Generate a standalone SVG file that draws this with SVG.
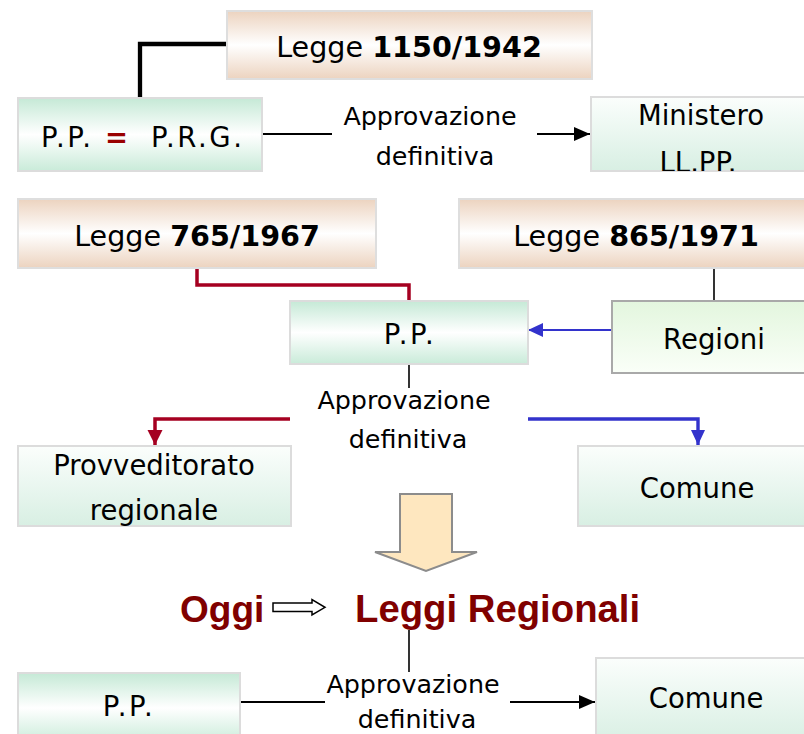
<svg xmlns="http://www.w3.org/2000/svg" width="804" height="734" viewBox="0 0 804 734">
  <style>
    .lbl { font-family: "DejaVu Sans", Verdana, sans-serif; font-size: 27.5px; fill: #000; }
    .pp { letter-spacing: 2.6px; }
    .law { font-family: "DejaVu Sans", Verdana, sans-serif; font-size: 28.6px; fill: #000; }
    .b { font-weight: bold; }
    .appr { font-family: "DejaVu Sans", Verdana, sans-serif; font-size: 25.4px; fill: #000; text-anchor: middle; }
    .mid { text-anchor: middle; }
    .head { font-family: "Liberation Sans", Arial, sans-serif; font-size: 37px; font-weight: bold; fill: #800000; }
    .law-box { fill: url(#peach); stroke: #dedede; stroke-width: 2; }
    .pp-box { fill: url(#greenMid); stroke: #dcdcdc; stroke-width: 2; }
    .org-box { fill: url(#greenDown); stroke: #dcdcdc; stroke-width: 2; }
    .reg-box { fill: url(#greenUp); stroke: #a9a9a9; stroke-width: 2; }
    .blk { fill: none; stroke: #000; }
    .red { fill: none; stroke: #a50021; stroke-width: 3.5; }
    .blue { fill: none; stroke: #3333cc; }
  </style>
  <defs>
    <linearGradient id="peach" x1="0" y1="0" x2="0" y2="1">
      <stop offset="0" stop-color="#ecd3bf"/>
      <stop offset="0.5" stop-color="#ffffff"/>
      <stop offset="1" stop-color="#ecd3bf"/>
    </linearGradient>
    <linearGradient id="greenMid" x1="0" y1="0" x2="0" y2="1">
      <stop offset="0" stop-color="#c5e9d6"/>
      <stop offset="0.5" stop-color="#ffffff"/>
      <stop offset="1" stop-color="#c9ebd9"/>
    </linearGradient>
    <linearGradient id="greenDown" x1="0" y1="0" x2="0" y2="1">
      <stop offset="0" stop-color="#fbfefc"/>
      <stop offset="1" stop-color="#d8efe3"/>
    </linearGradient>
    <linearGradient id="greenUp" x1="0" y1="0" x2="0" y2="1">
      <stop offset="0" stop-color="#e3f6de"/>
      <stop offset="1" stop-color="#fafff8"/>
    </linearGradient>
    <clipPath id="ministeroClip">
      <rect x="591" y="97" width="215" height="74"/>
    </clipPath>
    <marker id="ahBlack" markerUnits="userSpaceOnUse" markerWidth="18" markerHeight="16" refX="16" refY="7" orient="auto">
      <path d="M0,0 L16,7 L0,14 Z" fill="#000"/>
    </marker>
    <marker id="ahBlue" markerUnits="userSpaceOnUse" markerWidth="18" markerHeight="16" refX="15" refY="7" orient="auto">
      <path d="M0,0 L15,7 L0,14 Z" fill="#3333cc"/>
    </marker>
    <marker id="ahRed" markerUnits="userSpaceOnUse" markerWidth="18" markerHeight="16" refX="15" refY="7.5" orient="auto">
      <path d="M0,0 L15,7.5 L0,15 Z" fill="#a50021"/>
    </marker>
  </defs>

  <!-- connectors -->
  <g id="connectors">
    <path class="blk" stroke-width="4.3" d="M140,97 V44 H227"/>
    <line class="blk" stroke-width="2" x1="262" y1="134" x2="332" y2="134"/>
    <line class="blk" stroke-width="2" x1="537" y1="134" x2="590" y2="134" marker-end="url(#ahBlack)"/>
    <path class="red" d="M197,268 V285 H409 V300"/>
    <line class="blk" stroke-width="1.6" x1="714" y1="268" x2="714" y2="301"/>
    <line class="blue" stroke-width="1.8" x1="612" y1="330" x2="528" y2="330" marker-end="url(#ahBlue)"/>
    <line class="blk" stroke-width="1.6" x1="409" y1="364" x2="409" y2="388"/>
    <path class="red" stroke-width="3.2" d="M290,419 H155 V445" marker-end="url(#ahRed)"/>
    <path class="blue" stroke-width="3.4" d="M528,419 H698 V445" marker-end="url(#ahBlue)"/>
    <line class="blk" stroke-width="1.6" x1="409" y1="630" x2="409" y2="672"/>
    <line class="blk" stroke-width="2" x1="241" y1="702" x2="325" y2="702"/>
    <line class="blk" stroke-width="2" x1="510" y1="702" x2="595" y2="702" marker-end="url(#ahBlack)"/>
  </g>

  <!-- Legge 1150/1942 -->
  <g id="legge1150">
    <rect class="law-box" x="227" y="11" width="365" height="68"/>
    <text class="law mid" x="409" y="57">Legge <tspan class="b">1150/1942</tspan></text>
  </g>

  <!-- P.P. = P.R.G. -->
  <g id="pp-prg">
    <rect class="pp-box" x="18" y="98" width="244" height="73"/>
    <text class="lbl pp" y="147"><tspan x="41">P.P.</tspan><tspan x="105" class="b" fill="#990000">=</tspan><tspan x="151">P.R.G.</tspan></text>
  </g>

  <g id="appr1">
    <text class="appr" x="430" y="125">Approvazione</text>
    <text class="appr" x="435" y="165">definitiva</text>
  </g>

  <!-- Ministero LL.PP. -->
  <g id="ministero">
    <rect class="org-box" x="591" y="97" width="220" height="74"/>
    <g clip-path="url(#ministeroClip)">
      <text class="lbl mid" x="701" y="125">Ministero</text>
      <text class="lbl mid" x="698" y="172">LL.PP.</text>
    </g>
  </g>

  <!-- Legge 765/1967 -->
  <g id="legge765">
    <rect class="law-box" x="18" y="199" width="358" height="69"/>
    <text class="law mid" x="197" y="246">Legge <tspan class="b">765/1967</tspan></text>
  </g>

  <!-- Legge 865/1971 -->
  <g id="legge865">
    <rect class="law-box" x="459" y="199" width="355" height="69"/>
    <text class="law mid" x="636" y="246">Legge <tspan class="b">865/1971</tspan></text>
  </g>

  <!-- P.P. (1967) -->
  <g id="pp-mid">
    <rect class="pp-box" x="290" y="301" width="238" height="63"/>
    <text class="lbl pp mid" x="410" y="344">P.P.</text>
  </g>

  <!-- Regioni -->
  <g id="regioni">
    <rect class="reg-box" x="612" y="301" width="200" height="72"/>
    <text class="lbl mid" x="714" y="349">Regioni</text>
  </g>

  <g id="appr2">
    <text class="appr" x="404" y="409">Approvazione</text>
    <text class="appr" x="408" y="448">definitiva</text>
  </g>

  <!-- Provveditorato regionale -->
  <g id="provveditorato">
    <rect class="org-box" x="18" y="446" width="273" height="80"/>
    <text class="lbl mid" x="154" y="475">Provveditorato</text>
    <text class="lbl mid" x="154" y="520">regionale</text>
  </g>

  <!-- Comune (1971) -->
  <g id="comune-mid">
    <rect class="org-box" x="578" y="446" width="234" height="80"/>
    <text class="lbl mid" x="697" y="498">Comune</text>
  </g>

  <!-- transition block arrow -->
  <g id="block-arrow">
    <path d="M400,494 H452 V552 H477 L426,571 L375,552 H400 Z" fill="#fee7bf" stroke="#8c8c8c" stroke-width="2" stroke-linejoin="miter"/>
  </g>

  <!-- Oggi => Leggi Regionali -->
  <g id="oggi">
    <text class="head" x="180" y="622">Oggi</text>
    <path d="M273,603 H312 V599.5 L325,607.3 L312,615 V611.5 H273 Z" fill="#fff" stroke="#000" stroke-width="1.5" stroke-linejoin="miter"/>
    <text class="head" x="355" y="622" style="font-size:38.3px">Leggi Regionali</text>
  </g>

  <!-- P.P. (today) -->
  <g id="pp-oggi">
    <rect class="pp-box" x="18" y="673" width="222" height="70"/>
    <text class="lbl pp mid" x="129" y="716">P.P.</text>
  </g>

  <g id="appr3">
    <text class="appr" x="413" y="693">Approvazione</text>
    <text class="appr" x="417" y="728">definitiva</text>
  </g>

  <!-- Comune (today) -->
  <g id="comune-oggi">
    <rect class="org-box" x="596" y="658" width="216" height="86"/>
    <text class="lbl mid" x="706" y="708">Comune</text>
  </g>
</svg>
